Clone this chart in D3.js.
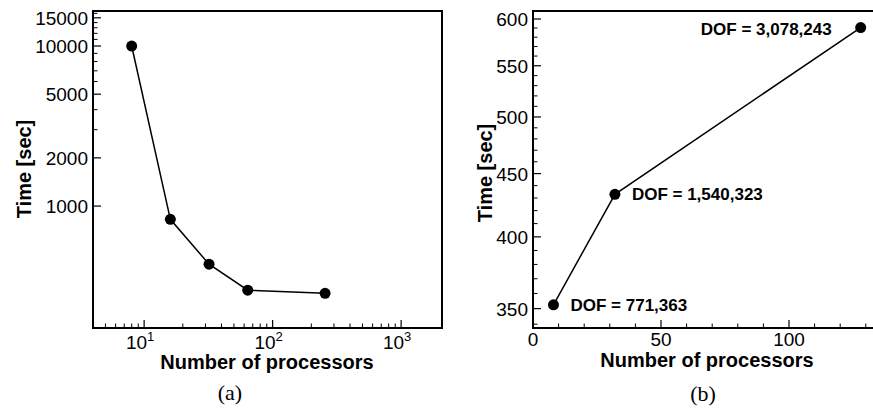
<!DOCTYPE html>
<html>
<head>
<meta charset="utf-8">
<script src="https://cdn.jsdelivr.net/npm/d3@7"></script>
<style>
  body { margin: 0; background: #fff; }
  svg { display: block; font-family: "Liberation Sans", Arial, sans-serif; }
</style>
</head>
<body>
<div id="plot"></div>
<script>
// panel (a): time vs processors, log-log
const procsA = [8, 16, 32, 64, 256];
const timeA = [10000, 826, 433, 298, 285];
const yTicksA = [1000, 2000, 5000, 10000, 15000];
const yMinorA = [3000, 4000, 6000, 7000, 8000, 9000, 11000, 12000, 13000, 14000, 16000];
const xTicksA = [10, 100, 1000];
const xMinorA = [5, 6, 7, 8, 9, 20, 30, 40, 50, 60, 70, 80, 90, 200, 300, 400, 500, 600, 700, 800, 900];

// panel (b): weak scaling
const procsB = [8, 32, 128];
const timeB = [352.5, 433, 590.5];
const dofLabels = ["DOF = 771,363", "DOF = 1,540,323", "DOF = 3,078,243"];
const yTicksB = [350, 400, 450, 500, 550, 600];
const xTicksB = [0, 50, 100];

const width = 873, height = 411;
const svg = d3.select("#plot").append("svg")
    .attr("width", width)
    .attr("height", height);

const majorLen = 8, minorLen = 4.5;
const tickFont = "19px", titleFont = "20px";

function frame(g, x0, x1, y0, y1) {
    g.append("rect")
        .attr("x", x0).attr("y", y0)
        .attr("width", x1 - x0).attr("height", y1 - y0)
        .attr("fill", "none")
        .attr("stroke", "#000")
        .attr("stroke-width", 2);
}

function yTicks(g, y, x0, major, minor, labelFn) {
    g.selectAll(null).data(minor).enter().append("line")
        .attr("x1", x0).attr("x2", x0 + minorLen)
        .attr("y1", d => y(d)).attr("y2", d => y(d))
        .attr("stroke", "#000").attr("stroke-width", 1);
    g.selectAll(null).data(major).enter().append("line")
        .attr("x1", x0).attr("x2", x0 + majorLen)
        .attr("y1", d => y(d)).attr("y2", d => y(d))
        .attr("stroke", "#000").attr("stroke-width", 1.2);
    g.selectAll(null).data(major).enter().append("text")
        .attr("x", x0 - 5)
        .attr("y", d => y(d) + 7)
        .attr("text-anchor", "end")
        .style("font-size", tickFont)
        .text(labelFn);
}

function xTicks(g, x, y0, major, minor) {
    g.selectAll(null).data(minor).enter().append("line")
        .attr("x1", d => x(d)).attr("x2", d => x(d))
        .attr("y1", y0).attr("y2", y0 - minorLen)
        .attr("stroke", "#000").attr("stroke-width", 1);
    g.selectAll(null).data(major).enter().append("line")
        .attr("x1", d => x(d)).attr("x2", d => x(d))
        .attr("y1", y0).attr("y2", y0 - majorLen)
        .attr("stroke", "#000").attr("stroke-width", 1.2);
}

function series(g, x, y, xs, ys) {
    const pts = xs.map((d, i) => [x(d), y(ys[i])]);
    g.append("path")
        .attr("d", d3.line()(pts))
        .attr("fill", "none")
        .attr("stroke", "#000")
        .attr("stroke-width", 1.5);
    g.selectAll(null).data(pts).enter().append("circle")
        .attr("cx", d => d[0]).attr("cy", d => d[1])
        .attr("r", 5.5)
        .attr("fill", "#000");
}

// ---- panel (a)
const ga = svg.append("g");
const xA = d3.scaleLog().domain([4, 2080]).range([93, 442]);
const yA = d3.scaleLog().domain([173, 16550]).range([328, 11]);

frame(ga, 93, 442, 11, 328);
yTicks(ga, yA, 93, yTicksA, yMinorA, d => d);
xTicks(ga, xA, 328, xTicksA, xMinorA);

const xlabA = ga.selectAll(null).data(xTicksA).enter().append("text")
    .attr("x", d => xA(d) - 4)
    .attr("y", 349)
    .attr("text-anchor", "middle")
    .style("font-size", tickFont);
xlabA.append("tspan").text("10");
xlabA.append("tspan")
    .attr("dy", -8)
    .style("font-size", "13px")
    .text(d => Math.round(Math.log10(d)));

series(ga, xA, yA, procsA, timeA);

ga.append("text")
    .attr("x", 267).attr("y", 369)
    .attr("text-anchor", "middle")
    .style("font-size", titleFont).style("font-weight", "bold")
    .text("Number of processors");

ga.append("text")
    .attr("transform", "translate(31,169) rotate(-90)")
    .attr("text-anchor", "middle")
    .style("font-size", titleFont).style("font-weight", "bold")
    .text("Time [sec]");

ga.append("text")
    .attr("x", 230).attr("y", 400)
    .attr("text-anchor", "middle")
    .style("font-family", "'Liberation Serif', 'DejaVu Serif', serif")
    .style("font-size", "22px")
    .text("(a)");

// ---- panel (b)
const gb = svg.append("g");
const xB = d3.scaleLinear().domain([0, 140]).range([533, 891.4]);
const yB = d3.scaleLog().domain([337.6, 609]).range([328, 11]);

frame(gb, 533, 891.4, 11, 328);
const yMinorB = d3.range(340, 610, 10).filter(d => d % 50 !== 0);
yTicks(gb, yB, 533, yTicksB, yMinorB, d => d);
const xMinorB = d3.range(10, 140, 10).filter(d => d % 50 !== 0);
xTicks(gb, xB, 328, xTicksB, xMinorB);

gb.selectAll(null).data(xTicksB).enter().append("text")
    .attr("x", d => xB(d))
    .attr("y", 346)
    .attr("text-anchor", "middle")
    .style("font-size", tickFont)
    .text(d => d);

series(gb, xB, yB, procsB, timeB);

// DOF annotations
gb.selectAll(null).data(procsB).enter().append("text")
    .attr("x", (d, i) => i === 2 ? xB(d) - 29 : xB(d) + 17)
    .attr("y", (d, i) => yB(timeB[i]) + (i === 2 ? 7 : 6))
    .attr("text-anchor", (d, i) => i === 2 ? "end" : "start")
    .style("font-size", "17px").style("font-weight", "bold")
    .text((d, i) => dofLabels[i]);

gb.append("text")
    .attr("x", 707).attr("y", 367)
    .attr("text-anchor", "middle")
    .style("font-size", titleFont).style("font-weight", "bold")
    .text("Number of processors");

gb.append("text")
    .attr("transform", "translate(492,173) rotate(-90)")
    .attr("text-anchor", "middle")
    .style("font-size", titleFont).style("font-weight", "bold")
    .text("Time [sec]");

gb.append("text")
    .attr("x", 703).attr("y", 401)
    .attr("text-anchor", "middle")
    .style("font-family", "'Liberation Serif', 'DejaVu Serif', serif")
    .style("font-size", "22px")
    .text("(b)");
</script>
</body>
</html>
